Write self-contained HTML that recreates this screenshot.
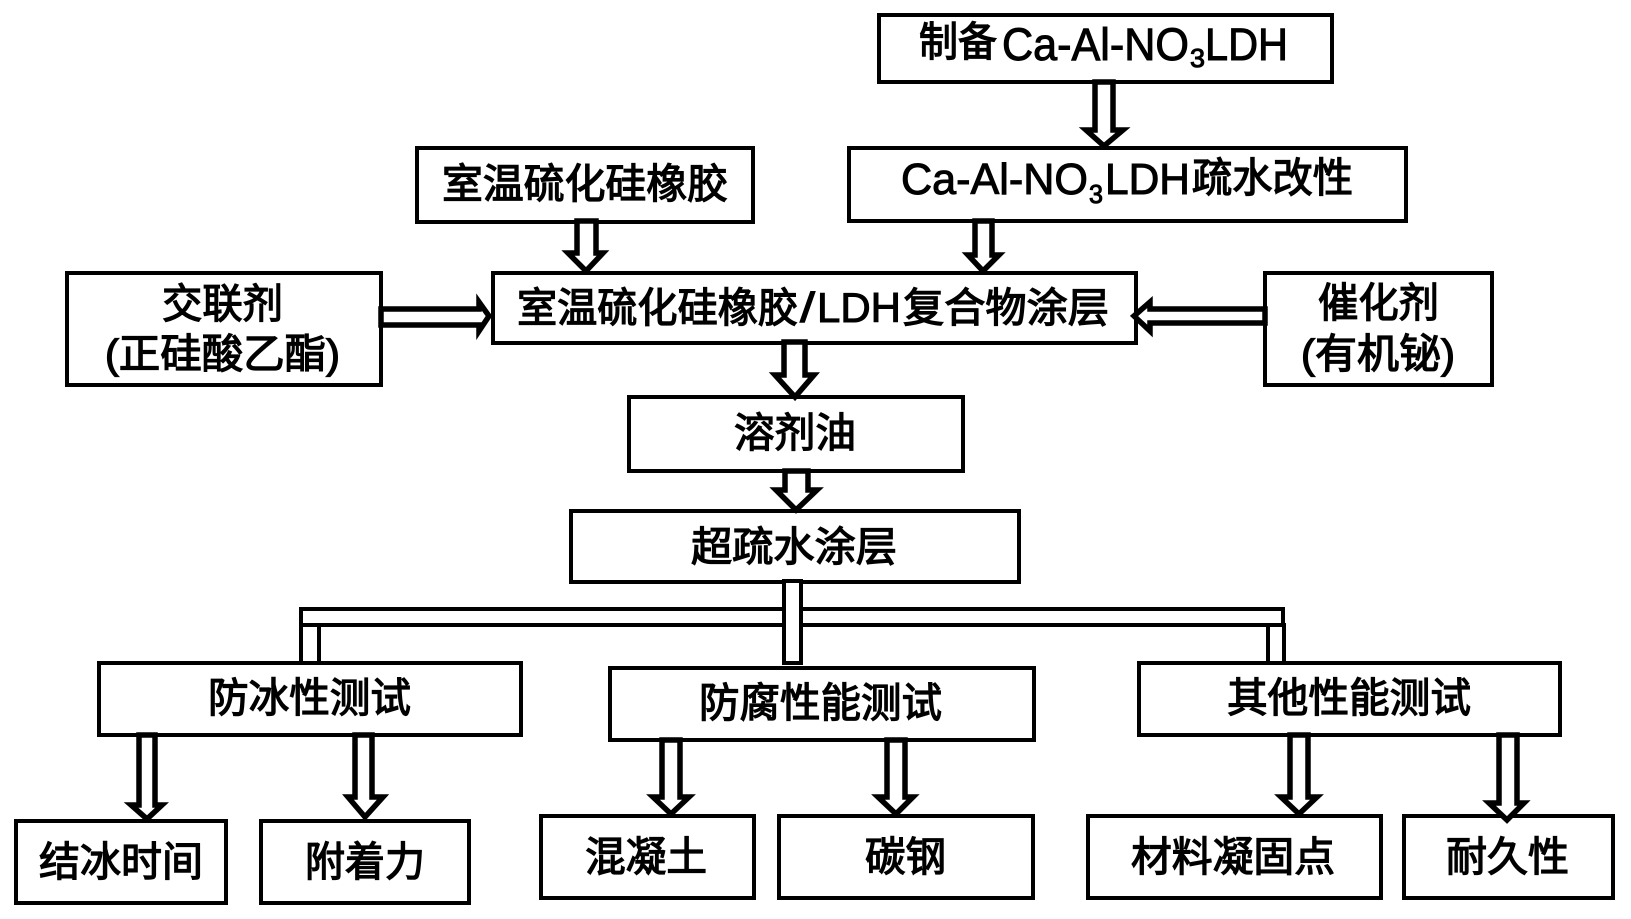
<!DOCTYPE html>
<html lang="zh"><head><meta charset="utf-8"><title>超疏水涂层流程图</title>
<style>
html,body{margin:0;padding:0;background:#fff;width:1631px;height:919px;overflow:hidden}
svg{display:block}
.b rect{fill:#fff;stroke:#000;stroke-width:4}
.a path{fill:#fff;stroke:#000;stroke-width:5.5;stroke-linejoin:miter}
.c{font-family:"Liberation Sans","Noto Sans CJK SC",sans-serif;font-size:41px;fill:#000;stroke:#000;stroke-width:1.3}
.l{font-family:"Liberation Sans",sans-serif;fill:#000;stroke:#000;stroke-width:1}
</style></head><body>
<svg width="1631" height="919" viewBox="0 0 1631 919" xmlns="http://www.w3.org/2000/svg">
<rect width="1631" height="919" fill="#fff"/>
<g class="b">
<rect x="879" y="15" width="453" height="67"/>
<rect x="849" y="148" width="557" height="73"/>
<rect x="417" y="148" width="336" height="74"/>
<rect x="67" y="273" width="314" height="112"/>
<rect x="493" y="273" width="643" height="70"/>
<rect x="1265" y="273" width="227" height="112"/>
<rect x="629" y="397" width="334" height="74"/>
<rect x="571" y="511" width="448" height="71"/>
<rect x="301" y="609" width="982" height="16"/>
<rect x="301" y="625" width="18" height="38"/>
<rect x="1268" y="625" width="16" height="38"/>
<rect x="784" y="581" width="17" height="82"/>
<rect x="99" y="663" width="422" height="72"/>
<rect x="610" y="668" width="424" height="72"/>
<rect x="1139" y="663" width="421" height="72"/>
<rect x="16" y="821" width="210" height="82"/>
<rect x="261" y="821" width="208" height="82"/>
<rect x="541" y="816" width="213" height="82"/>
<rect x="779" y="816" width="254" height="82"/>
<rect x="1088" y="816" width="293" height="82"/>
<rect x="1404" y="816" width="209" height="82"/>
</g>
<g class="a">
<path d="M1095 82V130H1086L1104 146L1123 130H1113V82Z"/>
<path d="M577 221V253H568L586 271L603 253H596V221Z"/>
<path d="M975 221V255H968L983 271L999 255H992V221Z"/>
<path d="M784 342V375H775L795 397L814 375H805V342Z"/>
<path d="M785 471V490H776L796 510L817 490H808V471Z"/>
<path d="M381 309H479V302L489 316L479 331V325H381Z"/>
<path d="M1265 309H1150V302L1134 316L1150 331V323H1265Z"/>
<path d="M139 735V805H131L147 819L162 805H155V735Z"/>
<path d="M355 735V797H348L365 817L383 797H372V735Z"/>
<path d="M662 740V797H653L671 814L689 797H680V740Z"/>
<path d="M887 740V797H878L896 814L913 797H905V740Z"/>
<path d="M1290 735V797H1281L1299 814L1317 797H1308V735Z"/>
<path d="M1499 735V803H1489L1507 820L1524 803H1517V735Z"/>
</g>
<g class="c">
<text x="919" y="56" textLength="78" lengthAdjust="spacingAndGlyphs">制备</text>
<text x="1192" y="192" textLength="161" lengthAdjust="spacingAndGlyphs">疏水改性</text>
<text x="442" y="198" textLength="286" lengthAdjust="spacingAndGlyphs">室温硫化硅橡胶</text>
<text x="517" y="322" textLength="281" lengthAdjust="spacingAndGlyphs">室温硫化硅橡胶</text>
<text x="903" y="322" textLength="206" lengthAdjust="spacingAndGlyphs">复合物涂层</text>
<text x="162" y="318" textLength="121" lengthAdjust="spacingAndGlyphs">交联剂</text>
<text x="105" y="368" textLength="235" lengthAdjust="spacingAndGlyphs">(正硅酸乙酯)</text>
<text x="1318" y="317" textLength="121" lengthAdjust="spacingAndGlyphs">催化剂</text>
<text x="1301" y="368" textLength="154" lengthAdjust="spacingAndGlyphs">(有机铋)</text>
<text x="734" y="447" textLength="122" lengthAdjust="spacingAndGlyphs">溶剂油</text>
<text x="691" y="561" textLength="206" lengthAdjust="spacingAndGlyphs">超疏水涂层</text>
<text x="208" y="712" textLength="203" lengthAdjust="spacingAndGlyphs">防冰性测试</text>
<text x="699" y="717" textLength="243" lengthAdjust="spacingAndGlyphs">防腐性能测试</text>
<text x="1227" y="712" textLength="244" lengthAdjust="spacingAndGlyphs">其他性能测试</text>
<text x="39" y="876" textLength="164" lengthAdjust="spacingAndGlyphs">结冰时间</text>
<text x="305" y="876" textLength="120" lengthAdjust="spacingAndGlyphs">附着力</text>
<text x="585" y="871" textLength="122" lengthAdjust="spacingAndGlyphs">混凝土</text>
<text x="865" y="871" textLength="81" lengthAdjust="spacingAndGlyphs">碳钢</text>
<text x="1131" y="871" textLength="204" lengthAdjust="spacingAndGlyphs">材料凝固点</text>
<text x="1446" y="871" textLength="123" lengthAdjust="spacingAndGlyphs">耐久性</text>
</g>
<g class="l">
<text x="1002" y="60" font-size="45" textLength="187" lengthAdjust="spacingAndGlyphs">Ca-Al-NO</text>
<text x="1190" y="67" font-size="26" textLength="15" lengthAdjust="spacingAndGlyphs">3</text>
<text x="1205" y="60" font-size="45" textLength="83" lengthAdjust="spacingAndGlyphs">LDH</text>
<text x="901" y="194" font-size="44" textLength="187" lengthAdjust="spacingAndGlyphs">Ca-Al-NO</text>
<text x="1089" y="203" font-size="26" textLength="14" lengthAdjust="spacingAndGlyphs">3</text>
<text x="1105" y="194" font-size="44" textLength="85" lengthAdjust="spacingAndGlyphs">LDH</text>
<text x="800" y="322" font-size="42" textLength="15" lengthAdjust="spacingAndGlyphs">/</text>
<text x="817" y="322" font-size="42" textLength="84" lengthAdjust="spacingAndGlyphs">LDH</text>
</g>
</svg>
</body></html>
